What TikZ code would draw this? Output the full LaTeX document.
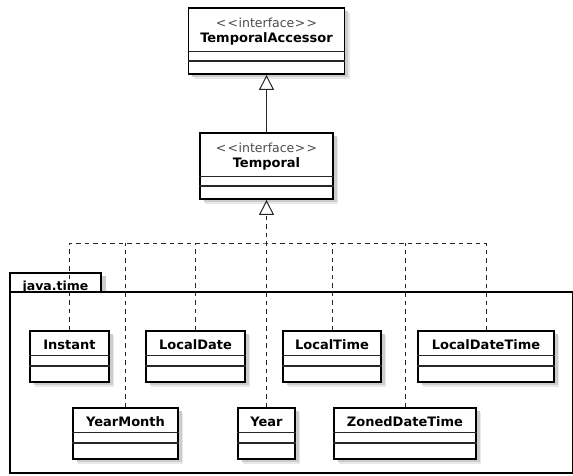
\documentclass[tikz,border=0pt]{standalone}
\usepackage{fontspec}
\setmainfont{DejaVu Sans}
\usetikzlibrary{arrows.meta,shadows,calc}

\tikzset{
  softshadow/.style={
    drop shadow={shadow xshift=5pt,shadow yshift=-5pt,fill=black!9,opacity=1},
    drop shadow={shadow xshift=3.5pt,shadow yshift=-3.5pt,fill=black!20,opacity=1}},
  cls/.style={draw=black,line width=1.9pt,fill=white,rectangle,inner sep=0pt,
    anchor=north,softshadow},
  comp/.style={draw=black!85,line width=1.1pt},
  cname/.style={font=\fontsize{13}{15}\bfseries\selectfont,inner sep=0pt},
  stereo/.style={font=\fontsize{12.5}{15}\selectfont,text=black!70,inner sep=0pt},
  dep/.style={draw=black!85,line width=1pt,dash pattern=on 4.5pt off 4pt},
  realize/.style={dep,-{Triangle[open,length=15pt,width=15pt,line width=1pt]}},
  generalize/.style={draw=black!85,line width=1.1pt,
    -{Triangle[open,length=15pt,width=15pt,line width=1pt]}},
  pkg/.style={draw=black,line width=1.5pt},
}

% stereotype text, kerned so the angle brackets stay separate characters
\newcommand{\ifacestereo}{<\kern1.2pt<\kern0.6pt interface\kern0.6pt>\kern1.2pt>}

% class box: #1 name, #2 centre x, #3 top y, #4 width, #5 label
\newcommand{\umlclass}[5]{%
  \node[cls,minimum width=#4pt,minimum height=51pt] (#1) at (#2,#3) {};
  \node[cname] (#1-name) at ([yshift=-14.5pt]#1.north) {#5};
  \draw[comp] ([yshift=-25.5pt]#1.north west) -- ([yshift=-25.5pt]#1.north east);
  \draw[comp] ([yshift=-36pt]#1.north west) -- ([yshift=-36pt]#1.north east);
}
% interface box: #1 name, #2 centre x, #3 top y, #4 width, #5 label
\newcommand{\umliface}[5]{%
  \node[cls,minimum width=#4pt,minimum height=66pt] (#1) at (#2,#3) {};
  \node[stereo] (#1-st) at ([yshift=-16pt]#1.north) {\ifacestereo};
  \node[cname] (#1-name) at ([yshift=-32pt]#1.north) {#5};
  \draw[comp] ([yshift=-44.5pt]#1.north west) -- ([yshift=-44.5pt]#1.north east);
  \draw[comp] ([yshift=-54pt]#1.north west) -- ([yshift=-54pt]#1.north east);
}

\begin{document}
\begin{tikzpicture}[x=1pt,y=-1pt]
\useasboundingbox (0,0) rectangle (573,476);

% package java.time
\fill[black!20] (101,276) rectangle (105.5,291);
\draw[pkg,fill=white] (10,292) -- (10,273) -- (101,273) -- (101,292);
\draw[pkg] (10,292) rectangle (572.5,473);
\node[cname,font=\fontsize{12.5}{15}\bfseries\selectfont,anchor=base] (pkgname) at (55.5,290) {java.time};

% interfaces
\umliface{accessor}{266.5}{7}{156}{TemporalAccessor}
\umliface{temporal}{266.5}{132}{133}{Temporal}

% classes, first row
\umlclass{instant}{69.5}{330}{79}{Instant}
\umlclass{localdate}{195.5}{330}{99}{LocalDate}
\umlclass{localtime}{332}{330}{98}{LocalTime}
\umlclass{localdatetime}{486}{330}{136}{LocalDateTime}
% classes, second row
\umlclass{yearmonth}{125.5}{407}{105}{YearMonth}
\umlclass{year}{266.5}{407}{57}{Year}
\umlclass{zoned}{405}{407}{142}{ZonedDateTime}

% generalization
\draw[generalize] (temporal.north) -- (accessor.south);

% realizations
\coordinate (bus) at (266.5,243);
\draw[realize] (year.north) -- (temporal.south);
\draw[dep] (instant.north) |- (bus) -| (localdatetime.north);
\draw[dep] (yearmonth.north) -- (yearmonth.north |- bus);
\draw[dep] (localdate.north) -- (localdate.north |- bus);
\draw[dep] (localtime.north) -- (localtime.north |- bus);
\draw[dep] (zoned.north) -- (zoned.north |- bus);
\end{tikzpicture}
\end{document}
